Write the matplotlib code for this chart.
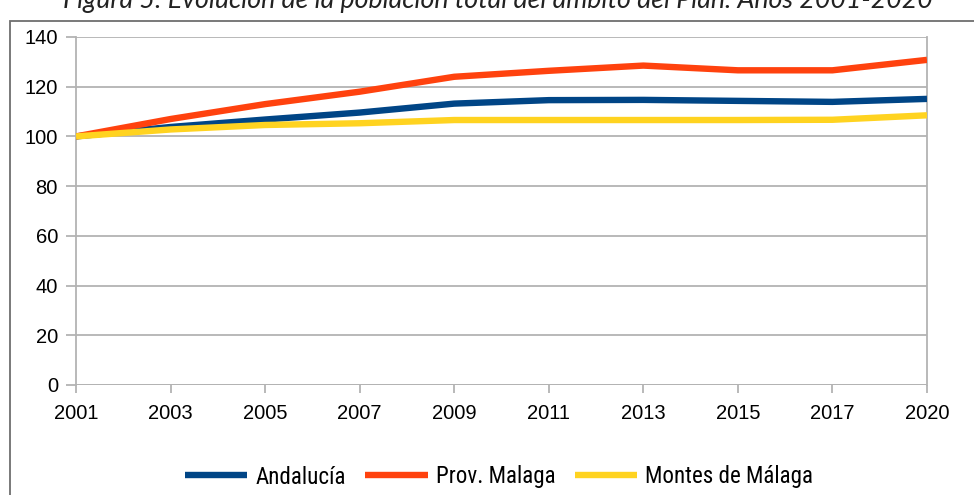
import matplotlib
matplotlib.use("Agg")
import matplotlib.pyplot as plt
from matplotlib import font_manager
from matplotlib.patches import Rectangle

years = ["2001", "2003", "2005", "2007", "2009", "2011", "2013", "2015", "2017", "2020"]
andalucia = [100, 103.8, 106.8, 109.6, 113.2, 114.6, 114.7, 114.3, 113.9, 115.1]
prov_malaga = [100, 107.0, 113.0, 118.0, 124.0, 126.4, 128.5, 126.6, 126.6, 130.8]
montes = [100, 102.8, 104.6, 105.3, 106.6, 106.6, 106.6, 106.6, 106.7, 108.5]
series_names = ["Andalucía", "Prov. Malaga", "Montes de Málaga"]
title = "Figura 5: Evolución de la población total del ámbito del Plan. Años 2001-2020"

fl = font_manager.fontManager.ttflist
names = {f.name for f in fl}
legend_prop = {"family": "Roboto", "size": 16}
chosen = None
for cand in ["Liberation Sans Narrow", "Roboto Condensed", "Open Sans Condensed", "Noto Sans Condensed"]:
    if cand in names:
        chosen = {"family": cand, "size": 16.6}
        break
if chosen is None:
    cond = [f for f in fl if f.name == "DejaVu Sans" and str(f.stretch) in ("condensed", "semi-condensed", "75", "87.5")]
    if cond:
        chosen = {"family": "DejaVu Sans", "stretch": "condensed", "size": 16}
if chosen is not None:
    legend_prop = chosen
tick_family = "Liberation Sans" if "Liberation Sans" in names else "DejaVu Sans"

W, H = 974, 495
fig = plt.figure(figsize=(W / 100, H / 100), dpi=100)
ax = fig.add_axes([76 / W, 1 - 385 / H, (927 - 76) / W, (385 - 37) / H])

colors = ["#004586", "#ff420e", "#ffd320"]
x = list(range(len(years)))
for vals, name, c in zip([andalucia, prov_malaga, montes], series_names, colors):
    ax.plot(x, vals, color=c, lw=4.6, label=name, solid_capstyle="butt", zorder=3)

ax.set_xlim(0, len(years) - 1)
ax.set_ylim(0, 140)
ax.set_yticks(range(0, 141, 20))
ax.set_xticks(x)
ax.set_xticklabels(years)
grid_c = "#b3b3b3"
ax.grid(axis="y", color=grid_c, lw=1.3, zorder=1)
ax.grid(axis="x", visible=False)
for s in ["top", "bottom"]:
    ax.spines[s].set_visible(False)
for s in ["left", "right"]:
    ax.spines[s].set_color(grid_c)
    ax.spines[s].set_linewidth(1.3)
ax.axhline(0, color=grid_c, lw=1.3, zorder=2)
ax.tick_params(axis="y", length=7, width=1.3, color=grid_c, pad=6,
               labelsize=14.5, labelcolor="#000000")
ax.tick_params(axis="x", length=6, width=1.3, color=grid_c, pad=8,
               labelsize=14.5, labelcolor="#000000")
for lab in ax.get_xticklabels() + ax.get_yticklabels():
    lab.set_family(tick_family)

# outer border (partially cut)
fig.patches.append(Rectangle((10 / W, -0.05), 1.2, 1 - 21 / H + 0.05,
                             transform=fig.transFigure, fill=False,
                             edgecolor="#6e6e6e", lw=1.3))

fig.text(498 / W, 1 - 8 / H, title, ha="center", va="baseline",
         fontsize=19.3, style="italic", family=["Lato", "DejaVu Sans"], color="#222222")

leg = fig.legend(loc="center", bbox_to_anchor=(499 / W, 1 - 477 / H), ncol=3,
                 frameon=False, handlelength=2.7, handletextpad=0.35,
                 columnspacing=0.85, prop=legend_prop)

fig.savefig("out.png", dpi=100)
